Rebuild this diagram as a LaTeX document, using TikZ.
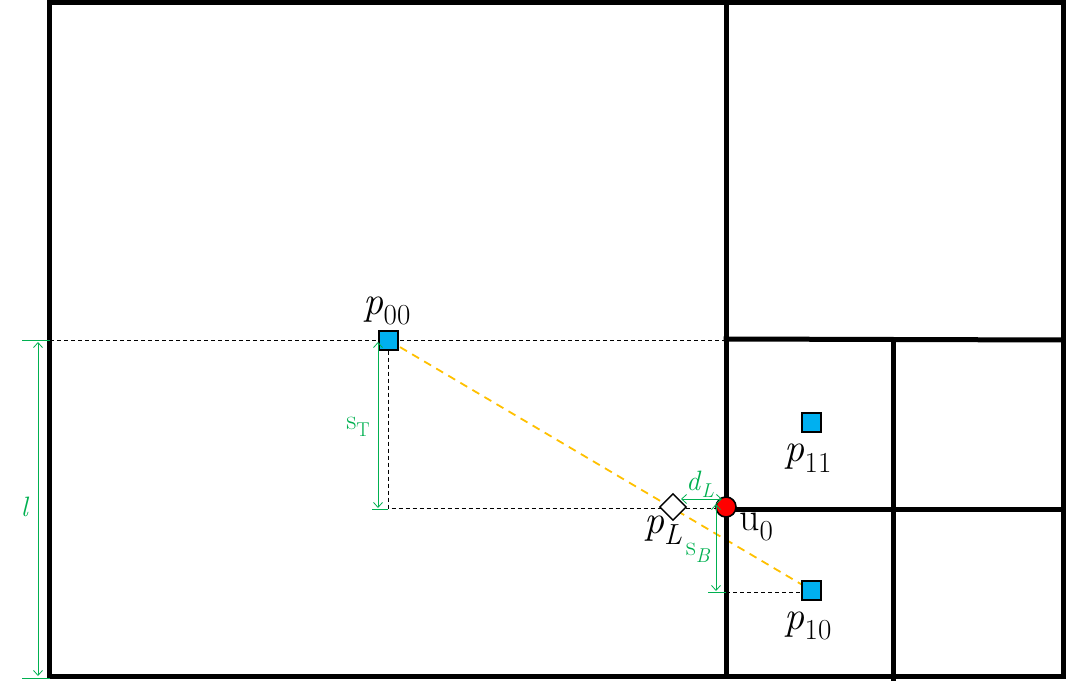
\documentclass[tikz,border=0pt]{standalone}
\usetikzlibrary{shapes.geometric,arrows.meta}
\newcommand{\subl}[3]{#1\raisebox{-0.26em}{\fontsize{#3}{#3}\selectfont #2}}
\definecolor{dimgreen}{HTML}{00B050}
\definecolor{sqblue}{HTML}{00B0F0}
\definecolor{lineyellow}{HTML}{FFC000}
\pgfdeclarelayer{bg}
\pgfsetlayers{bg,main}
\tikzset{
  frame/.style={line width=5pt,line cap=rect},
  guide/.style={black,line width=0.8pt,dash pattern=on 4pt off 3pt},
  conn/.style={lineyellow,line width=1.8pt,dash pattern=on 8pt off 6pt},
  dim/.style={dimgreen,line width=0.8pt,{Straight Barb[length=5pt,width=9pt]}-{Straight Barb[length=5pt,width=9pt]}},
  tick/.style={dimgreen,line width=0.8pt},
  sq/.style={draw=black,fill=sqblue,line width=2pt,minimum size=19pt,inner sep=0pt},
  ptlabel/.style={font=\fontsize{40}{46}\selectfont,inner sep=0pt},
  dimlabel/.style={text=dimgreen,font=\fontsize{28}{32}\selectfont,inner sep=0pt},
}
\begin{document}
\begin{tikzpicture}[x=1pt,y=-1pt]
\useasboundingbox (0,0) rectangle (1067,687);
% frame and cells
\draw[frame] (49,3) rectangle (1063,676);
\draw[frame] (726,3) -- (726,676);
\draw[frame] (726,339) -- (1063,340);
\draw[frame] (893,340) -- (893,678);
\draw[frame] (726,509) -- (1063,509);
% points
\node[sq] (p00) at (388,340) {};
\node[sq] (p11) at (811,422) {};
\node[sq] (p10) at (811,590) {};
\node[diamond,draw=black,fill=white,line width=1.4pt,minimum size=27pt,inner sep=0pt] (pL) at (673,507) {};
\node[circle,draw=black,fill=red,line width=1.6pt,minimum size=20pt,inner sep=0pt] (u0) at (726,507) {};
% helper coordinates
\coordinate (lTop) at (22,340);
\coordinate (lTopR) at (50,340);
\coordinate (lBot) at (22,678);
\coordinate (lBotR) at (50,678);
\coordinate (lA) at (38,342);
\coordinate (lB) at (38,676);
\coordinate (gEnd) at (726,340);
\coordinate (sTa) at (378,342);
\coordinate (sTb) at (378,508);
\coordinate (sTt1) at (372,509);
\coordinate (sTt2) at (388,509);
\coordinate (corner) at (388,508);
\coordinate (uL) at (718,508);
\coordinate (dLa) at (681,499);
\coordinate (dLb) at (722,499);
\coordinate (sBa) at (716,504);
\coordinate (sBb) at (716,591);
\coordinate (sBt1) at (708,592);
\coordinate (sBt2) at (726,592);
\coordinate (sBg) at (800,592);
\begin{pgfonlayer}{bg}
  \draw[guide] (lTopR) -- (gEnd);
  \draw[guide] (p00.south) -- (corner) -- (uL);
  \draw[guide] (sBt2) -- (sBg);
  \draw[conn] (p00.center) -- (p10.center);
\end{pgfonlayer}
% dimensions
\draw[tick] (lTop) -- (lTopR);
\draw[tick] (lBot) -- (lBotR);
\draw[dim] (lA) -- (lB);
\draw[dim] (sTa) -- (sTb);
\draw[tick] (sTt1) -- (sTt2);
\draw[dim] (dLa) -- (dLb);
\draw[dim] (sBa) -- (sBb);
\draw[tick] (sBt1) -- (sBt2);
% labels
\node[ptlabel] (lp00) at (387,311) {\subl{\textit{p}}{00}{29}};
\node[ptlabel] (lp11) at (808,458) {\subl{\textit{p}}{11}{29}};
\node[ptlabel] (lp10) at (808,626) {\subl{\textit{p}}{10}{29}};
\node[ptlabel] (lpL) at (663,530) {\subl{\textit{p}}{\textit{L}}{29}};
\node[ptlabel] (lu0) at (756,527) {\subl{u}{0}{29}};
\node[dimlabel] (ll) at (25,507) {\textit{l}};
\node[dimlabel] (lsT) at (358,427) {\subl{s}{T}{20}};
\node[dimlabel] (ldL) at (700,484) {\subl{\textit{d}}{\textit{L}}{20}};
\node[dimlabel] (lsB) at (698,553) {\subl{s}{\textit{B}}{20}};
\end{tikzpicture}
\end{document}
